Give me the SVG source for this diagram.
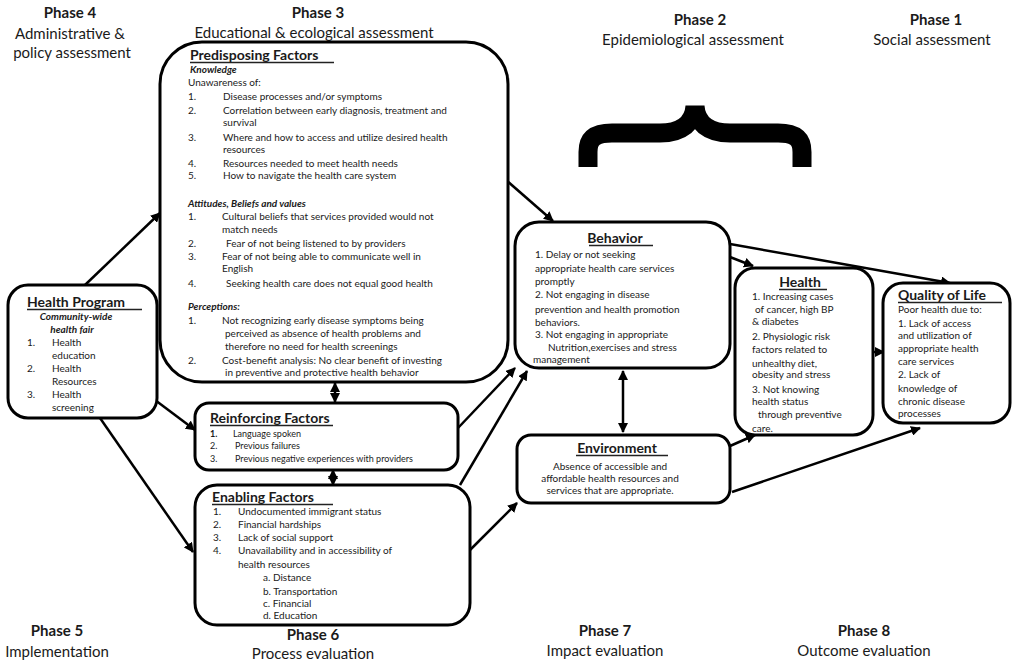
<svg xmlns="http://www.w3.org/2000/svg" width="1020" height="664" viewBox="0 0 1020 664">
<defs>
<marker id="ah" viewBox="0 0 10 10" refX="9" refY="5" markerWidth="10" markerHeight="10" markerUnits="userSpaceOnUse" orient="auto-start-reverse">
<path d="M0,0 L10,5 L0,10 Z" fill="#000"/>
</marker>
</defs>
<style>
text{font-family:Lato,"Liberation Sans",sans-serif;fill:#1a1a1a}
.ph{font-weight:bold;font-size:15px;text-anchor:middle}
.pd{font-size:15px;text-anchor:middle}
.box{fill:#fff;stroke:#000;stroke-width:3}
.t{font-size:10px}
.s{font-size:9px}
.h{font-weight:bold;font-size:14px}
.bi{font-weight:bold;font-style:italic;font-size:10px}
.ul{stroke:#222;stroke-width:1.3}
.c line{stroke:#000;stroke-width:2.5;marker-end:url(#ah)}
.c line.d{marker-start:url(#ah)}
.m{text-anchor:middle}
</style>
<rect width="1020" height="664" fill="#fff"/>

<g id="phases">
<text class="ph" x="70" y="18">Phase 4</text>
<text class="pd" x="70" y="39">Administrative &amp;</text>
<text class="pd" x="72" y="58">policy assessment</text>
<text class="ph" x="318" y="18">Phase 3</text>
<text class="pd" x="314" y="38">Educational &amp; ecological assessment</text>
<text class="ph" x="700" y="25">Phase 2</text>
<text class="pd" x="693" y="45">Epidemiological assessment</text>
<text class="ph" x="936" y="25">Phase 1</text>
<text class="pd" x="932" y="45">Social assessment</text>
<text class="ph" x="57" y="636">Phase 5</text>
<text class="pd" x="57" y="657">Implementation</text>
<text class="ph" x="313" y="640">Phase 6</text>
<text class="pd" x="313" y="659">Process evaluation</text>
<text class="ph" x="605" y="636">Phase 7</text>
<text class="pd" x="605" y="656">Impact evaluation</text>
<text class="ph" x="864" y="636">Phase 8</text>
<text class="pd" x="864" y="656">Outcome evaluation</text>
</g>

<g id="brace">
<path d="M588,167 L588,152 C588,138 596,133 612,133 L660,133 C682,133 694,122 695,106 C696,122 708,133 730,133 L778,133 C794,133 802,138 802,152 L802,167" fill="none" stroke="#000" stroke-width="19"/>
</g>

<g class="c" id="connectors">
<line x1="85" y1="285" x2="160" y2="213"/>
<line x1="155" y1="400" x2="195" y2="430"/>
<line x1="100" y1="418" x2="193" y2="552"/>
<line x1="506" y1="180" x2="553" y2="221"/>
<line class="d" x1="335" y1="383" x2="335" y2="402"/>
<line class="d" x1="333" y1="470" x2="333" y2="485"/>
<line x1="458" y1="428" x2="515" y2="368"/>
<line x1="460" y1="485" x2="527" y2="371"/>
<line x1="470" y1="550" x2="517" y2="503"/>
<line x1="730" y1="257" x2="753" y2="266"/>
<line x1="730" y1="244" x2="950" y2="283"/>
<line class="d" x1="623" y1="371" x2="623" y2="432"/>
<line x1="730" y1="446" x2="755" y2="435"/>
<line x1="732" y1="492" x2="920" y2="428"/>
<line x1="873" y1="352" x2="884" y2="352"/>
</g>

<g id="predisposing">
<rect class="box" x="160" y="42" width="348" height="340" rx="42"/>
<text class="h" x="190" y="60">Predisposing Factors</text>
<line class="ul" x1="190" y1="62.5" x2="334" y2="62.5"/>
<text class="bi" x="190" y="73">Knowledge</text>
<text class="t" x="188" y="86">Unawareness of:</text>
<text class="t" x="188" y="100">1.</text><text class="t" x="223" y="100">Disease processes and/or symptoms</text>
<text class="t" x="188" y="114">2.</text><text class="t" x="223" y="114">Correlation between early diagnosis, treatment and</text>
<text class="t" x="223" y="126">survival</text>
<text class="t" x="188" y="141">3.</text><text class="t" x="223" y="141">Where and how to access and utilize desired health</text>
<text class="t" x="223" y="153">resources</text>
<text class="t" x="188" y="167">4.</text><text class="t" x="223" y="167">Resources needed to meet health needs</text>
<text class="t" x="188" y="179">5.</text><text class="t" x="223" y="179">How to navigate the health care system</text>
<text class="bi" x="188" y="207">Attitudes, Beliefs and values</text>
<text class="t" x="188" y="220">1.</text><text class="t" x="222" y="220">Cultural beliefs that services provided would not</text>
<text class="t" x="222" y="233">match needs</text>
<text class="t" x="188" y="247">2.</text><text class="t" x="226" y="247">Fear of not being listened to by providers</text>
<text class="t" x="188" y="260">3.</text><text class="t" x="222" y="260">Fear of not being able to communicate well in</text>
<text class="t" x="222" y="272">English</text>
<text class="t" x="188" y="287">4.</text><text class="t" x="226" y="287">Seeking health care does not equal good health</text>
<text class="bi" x="188" y="310">Perceptions:</text>
<text class="t" x="188" y="324">1.</text><text class="t" x="222" y="324">Not recognizing early disease symptoms being</text>
<text class="t" x="225" y="337">perceived as absence of health problems and</text>
<text class="t" x="225" y="350">therefore no need for health screenings</text>
<text class="t" x="188" y="364">2.</text><text class="t" x="222" y="364">Cost-benefit analysis: No clear benefit of investing</text>
<text class="t" x="225" y="376">in preventive and protective health behavior</text>
</g>

<g id="health-program">
<rect class="box" x="8" y="285" width="149" height="133" rx="20"/>
<text class="h" x="27" y="307">Health Program</text>
<line class="ul" x1="27" y1="309.5" x2="142" y2="309.5"/>
<text class="bi m" x="76" y="320">Community-wide</text>
<text class="bi m" x="72" y="333">health fair</text>
<text class="t" x="27" y="346">1.</text><text class="t" x="52" y="346">Health</text>
<text class="t" x="52" y="359">education</text>
<text class="t" x="27" y="372">2.</text><text class="t" x="52" y="372">Health</text>
<text class="t" x="52" y="385">Resources</text>
<text class="t" x="27" y="398">3.</text><text class="t" x="52" y="398">Health</text>
<text class="t" x="52" y="411">screening</text>
</g>

<g id="reinforcing">
<rect class="box" x="195" y="403" width="263" height="67" rx="14"/>
<text class="h" x="210" y="423">Reinforcing Factors</text>
<line class="ul" x1="210" y1="425.5" x2="333" y2="425.5"/>
<text class="s" x="210" y="437" font-weight="bold">1.</text><text class="s" x="233" y="437">Language spoken</text>
<text class="s" x="210" y="449">2.</text><text class="s" x="235" y="449">Previous failures</text>
<text class="s" x="210" y="462">3.</text><text class="s" x="235" y="462">Previous negative experiences with providers</text>
</g>

<g id="enabling">
<rect class="box" x="195" y="485" width="275" height="140" rx="22"/>
<text class="h" x="212" y="502">Enabling Factors</text>
<line class="ul" x1="212" y1="504.5" x2="333" y2="504.5"/>
<text class="t" x="213" y="515">1.</text><text class="t" x="238" y="515">Undocumented immigrant status</text>
<text class="t" x="213" y="528">2.</text><text class="t" x="238" y="528">Financial hardships</text>
<text class="t" x="213" y="541">3.</text><text class="t" x="238" y="541">Lack of social support</text>
<text class="t" x="213" y="554">4.</text><text class="t" x="238" y="554">Unavailability and in accessibility of</text>
<text class="t" x="238" y="568">health resources</text>
<text class="t" x="263" y="581">a. Distance</text>
<text class="t" x="263" y="595">b. Transportation</text>
<text class="t" x="263" y="607">c. Financial</text>
<text class="t" x="263" y="619">d. Education</text>
</g>

<g id="behavior">
<rect class="box" x="515" y="222" width="215" height="146" rx="24"/>
<text class="h m" x="615" y="243">Behavior</text>
<line class="ul" x1="589" y1="245.5" x2="653" y2="245.5"/>
<text class="t" x="535" y="258">1.  Delay or not seeking</text>
<text class="t" x="535" y="272">appropriate health care services</text>
<text class="t" x="535" y="285">promptly</text>
<text class="t" x="535" y="298">2.  Not engaging in disease</text>
<text class="t" x="535" y="313">prevention and health promotion</text>
<text class="t" x="535" y="326">behaviors.</text>
<text class="t" x="535" y="338">3.  Not engaging in appropriate</text>
<text class="t" x="548" y="351">Nutrition,exercises and stress</text>
<text class="t" x="533" y="363">management</text>
</g>

<g id="environment">
<rect class="box" x="517" y="435" width="213" height="68" rx="14"/>
<text class="h m" x="617" y="453">Environment</text>
<line class="ul" x1="576" y1="455.5" x2="668" y2="455.5"/>
<text class="t m" x="610" y="470">Absence of accessible and</text>
<text class="t m" x="610" y="482">affordable health resources and</text>
<text class="t m" x="610" y="494">services that are appropriate.</text>
</g>

<g id="health">
<rect class="box" x="735" y="268" width="138" height="167" rx="20"/>
<text class="h m" x="800" y="287">Health</text>
<line class="ul" x1="779" y1="289.5" x2="827" y2="289.5"/>
<text class="t" x="752" y="300">1.  Increasing cases</text>
<text class="t" x="755" y="313">of cancer, high BP</text>
<text class="t" x="752" y="325">&amp; diabetes</text>
<text class="t" x="752" y="340">2.  Physiologic risk</text>
<text class="t" x="752" y="353">factors related to</text>
<text class="t" x="752" y="367">unhealthy diet,</text>
<text class="t" x="752" y="378">obesity and stress</text>
<text class="t" x="752" y="393">3.  Not knowing</text>
<text class="t" x="752" y="405">health status</text>
<text class="t" x="758" y="418">through preventive</text>
<text class="t" x="752" y="432">care.</text>
</g>

<g id="quality-of-life">
<rect class="box" x="883" y="283" width="127" height="140" rx="20"/>
<text class="h" x="898" y="300" font-size="15">Quality of Life</text>
<line class="ul" x1="898" y1="302.5" x2="1002" y2="302.5"/>
<text class="t" x="898" y="313">Poor health due to:</text>
<text class="t" x="898" y="327">1. Lack of access</text>
<text class="t" x="898" y="339">and utilization of</text>
<text class="t" x="898" y="352">appropriate health</text>
<text class="t" x="898" y="365">care services</text>
<text class="t" x="898" y="378">2.  Lack of</text>
<text class="t" x="898" y="392">knowledge of</text>
<text class="t" x="898" y="405">chronic disease</text>
<text class="t" x="898" y="417">processes</text>
</g>
</svg>
